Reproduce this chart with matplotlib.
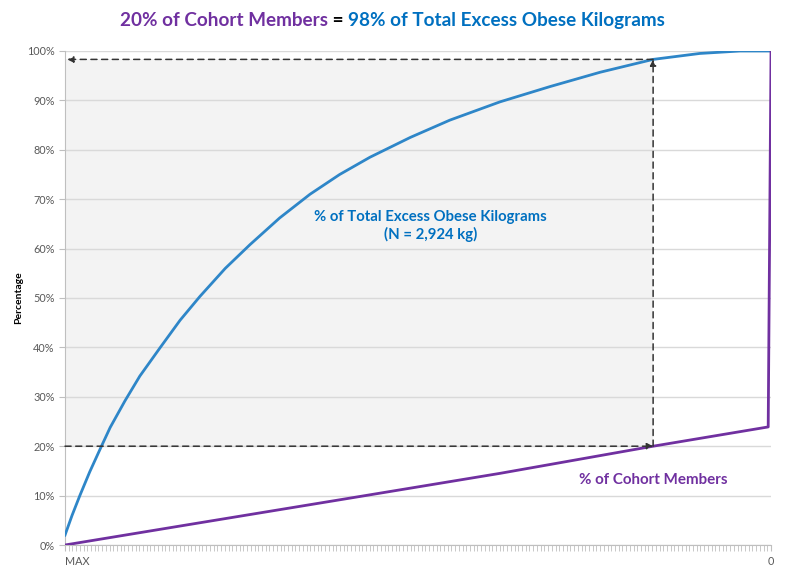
import matplotlib
matplotlib.use("Agg")
import matplotlib.pyplot as plt
from matplotlib.patches import Rectangle

plt.rcParams["font.family"] = ["Lato", "DejaVu Sans"]

# x position as share of the axis (left = MAX excess kg, right = 0)
blue_x = [0.0, 0.010, 0.021, 0.035, 0.050, 0.064, 0.085, 0.106, 0.135, 0.163,
          0.191, 0.227, 0.262, 0.304, 0.347, 0.389, 0.432, 0.489, 0.545, 0.616,
          0.687, 0.758, 0.833, 0.899, 0.956, 1.0]
blue_y = [2, 6, 10, 14.8, 19.5, 23.8, 29.2, 34.2, 40, 45.5,
          50.3, 56, 60.8, 66.2, 71, 75, 78.5, 82.5, 86, 89.7,
          92.8, 95.7, 98.3, 99.5, 100, 100]

purple_x = [0.0, 0.191, 0.404, 0.616, 0.833, 0.996, 1.0]
purple_y = [0, 4.5, 9.5, 14.5, 20, 23.9, 100]

cut_x = 0.833
cut_cohort = 20
cut_kg = 98.3

yticks = list(range(0, 101, 10))
n_minor = 190

blue = "#2E86C8"
purple = "#7030A0"
title_blue = "#0070C0"
grey_txt = "#595959"

fig = plt.figure(figsize=(7.87, 5.66), dpi=100)
ax = fig.add_axes([0.0826, 0.0371, 0.8971, 0.8728])

ax.add_patch(Rectangle((0, cut_cohort), cut_x, cut_kg - cut_cohort,
                       facecolor="#f3f3f3", edgecolor="none", zorder=0))

for v in yticks:
    ax.axhline(v, color="#d9d9d9", lw=1, zorder=1)

ax.plot(blue_x, blue_y, color=blue, lw=2, zorder=3)
ax.plot(purple_x, purple_y, color=purple, lw=2, zorder=3)

arrow = dict(arrowstyle="-|>", linestyle=(0, (4, 3)), color="#333333", lw=1.1,
             mutation_scale=9, shrinkA=0, shrinkB=0)
ax.annotate("", xy=(0.003, cut_kg), xytext=(cut_x, cut_kg), arrowprops=arrow, zorder=4)
ax.annotate("", xy=(cut_x, cut_kg), xytext=(cut_x, cut_cohort), arrowprops=arrow, zorder=4)
ax.annotate("", xy=(cut_x, cut_cohort), xytext=(0.0, cut_cohort), arrowprops=arrow, zorder=4)

ax.text(0.518, 64.6, "% of Total Excess Obese Kilograms\n(N = 2,924 kg)",
        color=title_blue, fontsize=10.7, fontweight="bold", ha="center", va="center",
        linespacing=1.3)
ax.text(cut_x, 13.2, "% of Cohort Members", color=purple, fontsize=10.9,
        fontweight="bold", ha="center", va="center")

ax.set_xlim(0, 1)
ax.set_ylim(0, 100)
ax.set_yticks(yticks)
ax.set_yticklabels([f"{v}%" for v in yticks], fontsize=7.8, color=grey_txt)
ax.set_xticks([0, 1])
xl = ax.set_xticklabels(["MAX", "0"], fontsize=7.8, color=grey_txt)
xl[0].set_ha("left")
ax.set_xticks([i / n_minor for i in range(n_minor + 1)], minor=True)
ax.tick_params(axis="x", which="both", length=4, color="#bfbfbf", pad=4)
ax.tick_params(axis="y", length=4, color="#bfbfbf")
for s in ["top", "right"]:
    ax.spines[s].set_visible(False)
for s in ["left", "bottom"]:
    ax.spines[s].set_color("#bfbfbf")
ax.set_ylabel("Percentage", fontsize=7.5, fontweight="bold", labelpad=3)

# two coloured title
parts = [("20% of Cohort Members", purple), (" = ", "black"),
         ("98% of Total Excess Obese Kilograms", title_blue)]
renderer = fig.canvas.get_renderer()
texts = []
for s, c in parts:
    t = fig.text(0, 0, s, color=c, fontsize=13.6, fontweight="bold",
                 ha="left", va="center", transform=None)
    texts.append(t)
widths = [t.get_window_extent(renderer).width for t in texts]
start = 120
ypix = 0.963 * fig.bbox.height
for t, w in zip(texts, widths):
    t.set_position((start, ypix))
    start += w

fig.savefig("out.png", dpi=100)
